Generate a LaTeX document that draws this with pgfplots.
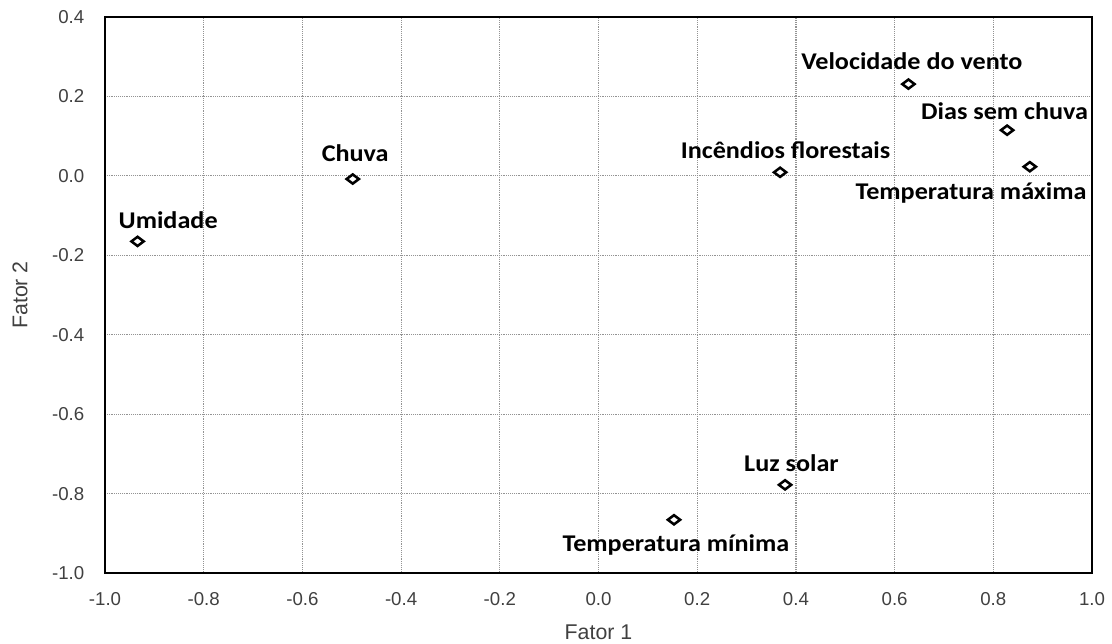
\documentclass[border=0pt]{standalone}
\usepackage{fontspec}
\setmainfont{Liberation Sans}
\newfontfamily\lblfont{Carlito}
\usepackage{pgfplots}
\pgfplotsset{compat=1.18}

\definecolor{ticktext}{HTML}{404040}

\begin{document}
\begin{tikzpicture}
% fixed canvas around the plotting area
\useasboundingbox (-78.75pt,-52.5pt) rectangle (755.25pt,429.75pt);
\begin{axis}[
  at={(0,0)}, anchor=south west,
  scale only axis,
  width=740.25pt, height=417pt,
  xmin=-1, xmax=1, ymin=-1, ymax=0.4,
  xtick={-1,-0.8,...,1.01},
  ytick={-1,-0.8,...,0.41},
  grid=major,
  major grid style={densely dotted, line width=0.9pt, gray!85},
  major tick length=0pt,
  axis line style={line width=1.8pt, black},
  /pgf/number format/assume math mode=true,
  /pgf/number format/.cd, fixed, fixed zerofill, precision=1, /pgfplots/.cd,
  tick label style={font=\fontsize{14}{16}\selectfont, text=ticktext},
  xticklabel style={yshift=-11pt},
  yticklabel style={xshift=-12pt},
  xlabel={Fator 1}, ylabel={Fator 2},
  label style={font=\fontsize{16}{19}\selectfont, text=ticktext},
  xlabel style={at={(axis description cs:0.5,-0.1061)}, anchor=center},
  ylabel style={at={(axis description cs:-0.0861,0.5)}, anchor=center},
  clip=false,
]
% factor loadings of each variable
\addplot[only marks, mark=diamond, mark size=4.6pt,
  mark options={rotate=90, line width=1.9pt, draw=black, fill=white}]
  table[row sep=\\] {
  x y\\
  -0.934 -0.165\\
  -0.498 -0.008\\
  0.368 0.009\\
  0.628 0.231\\
  0.828 0.115\\
  0.874 0.023\\
  0.378 -0.778\\
  0.153 -0.866\\
};
\tikzset{ptlabel/.style={font=\lblfont\bfseries\fontsize{18}{21}\selectfont, xscale=1.09, anchor=center, inner sep=0pt}}
\node[ptlabel] at (axis cs:-0.872,-0.111) {Umidade};
\node[ptlabel] at (axis cs:-0.493,0.058) {Chuva};
\node[ptlabel] at (axis cs:0.379,0.065) {Incêndios florestais};
\node[ptlabel] at (axis cs:0.635,0.290) {Velocidade do vento};
\node[ptlabel] at (axis cs:0.823,0.164) {Dias sem chuva};
\node[ptlabel] at (axis cs:0.755,-0.044) {Temperatura máxima};
\node[ptlabel] at (axis cs:0.391,-0.724) {Luz solar};
\node[ptlabel] at (axis cs:0.157,-0.929) {Temperatura mínima};
\end{axis}
\end{tikzpicture}
\end{document}
